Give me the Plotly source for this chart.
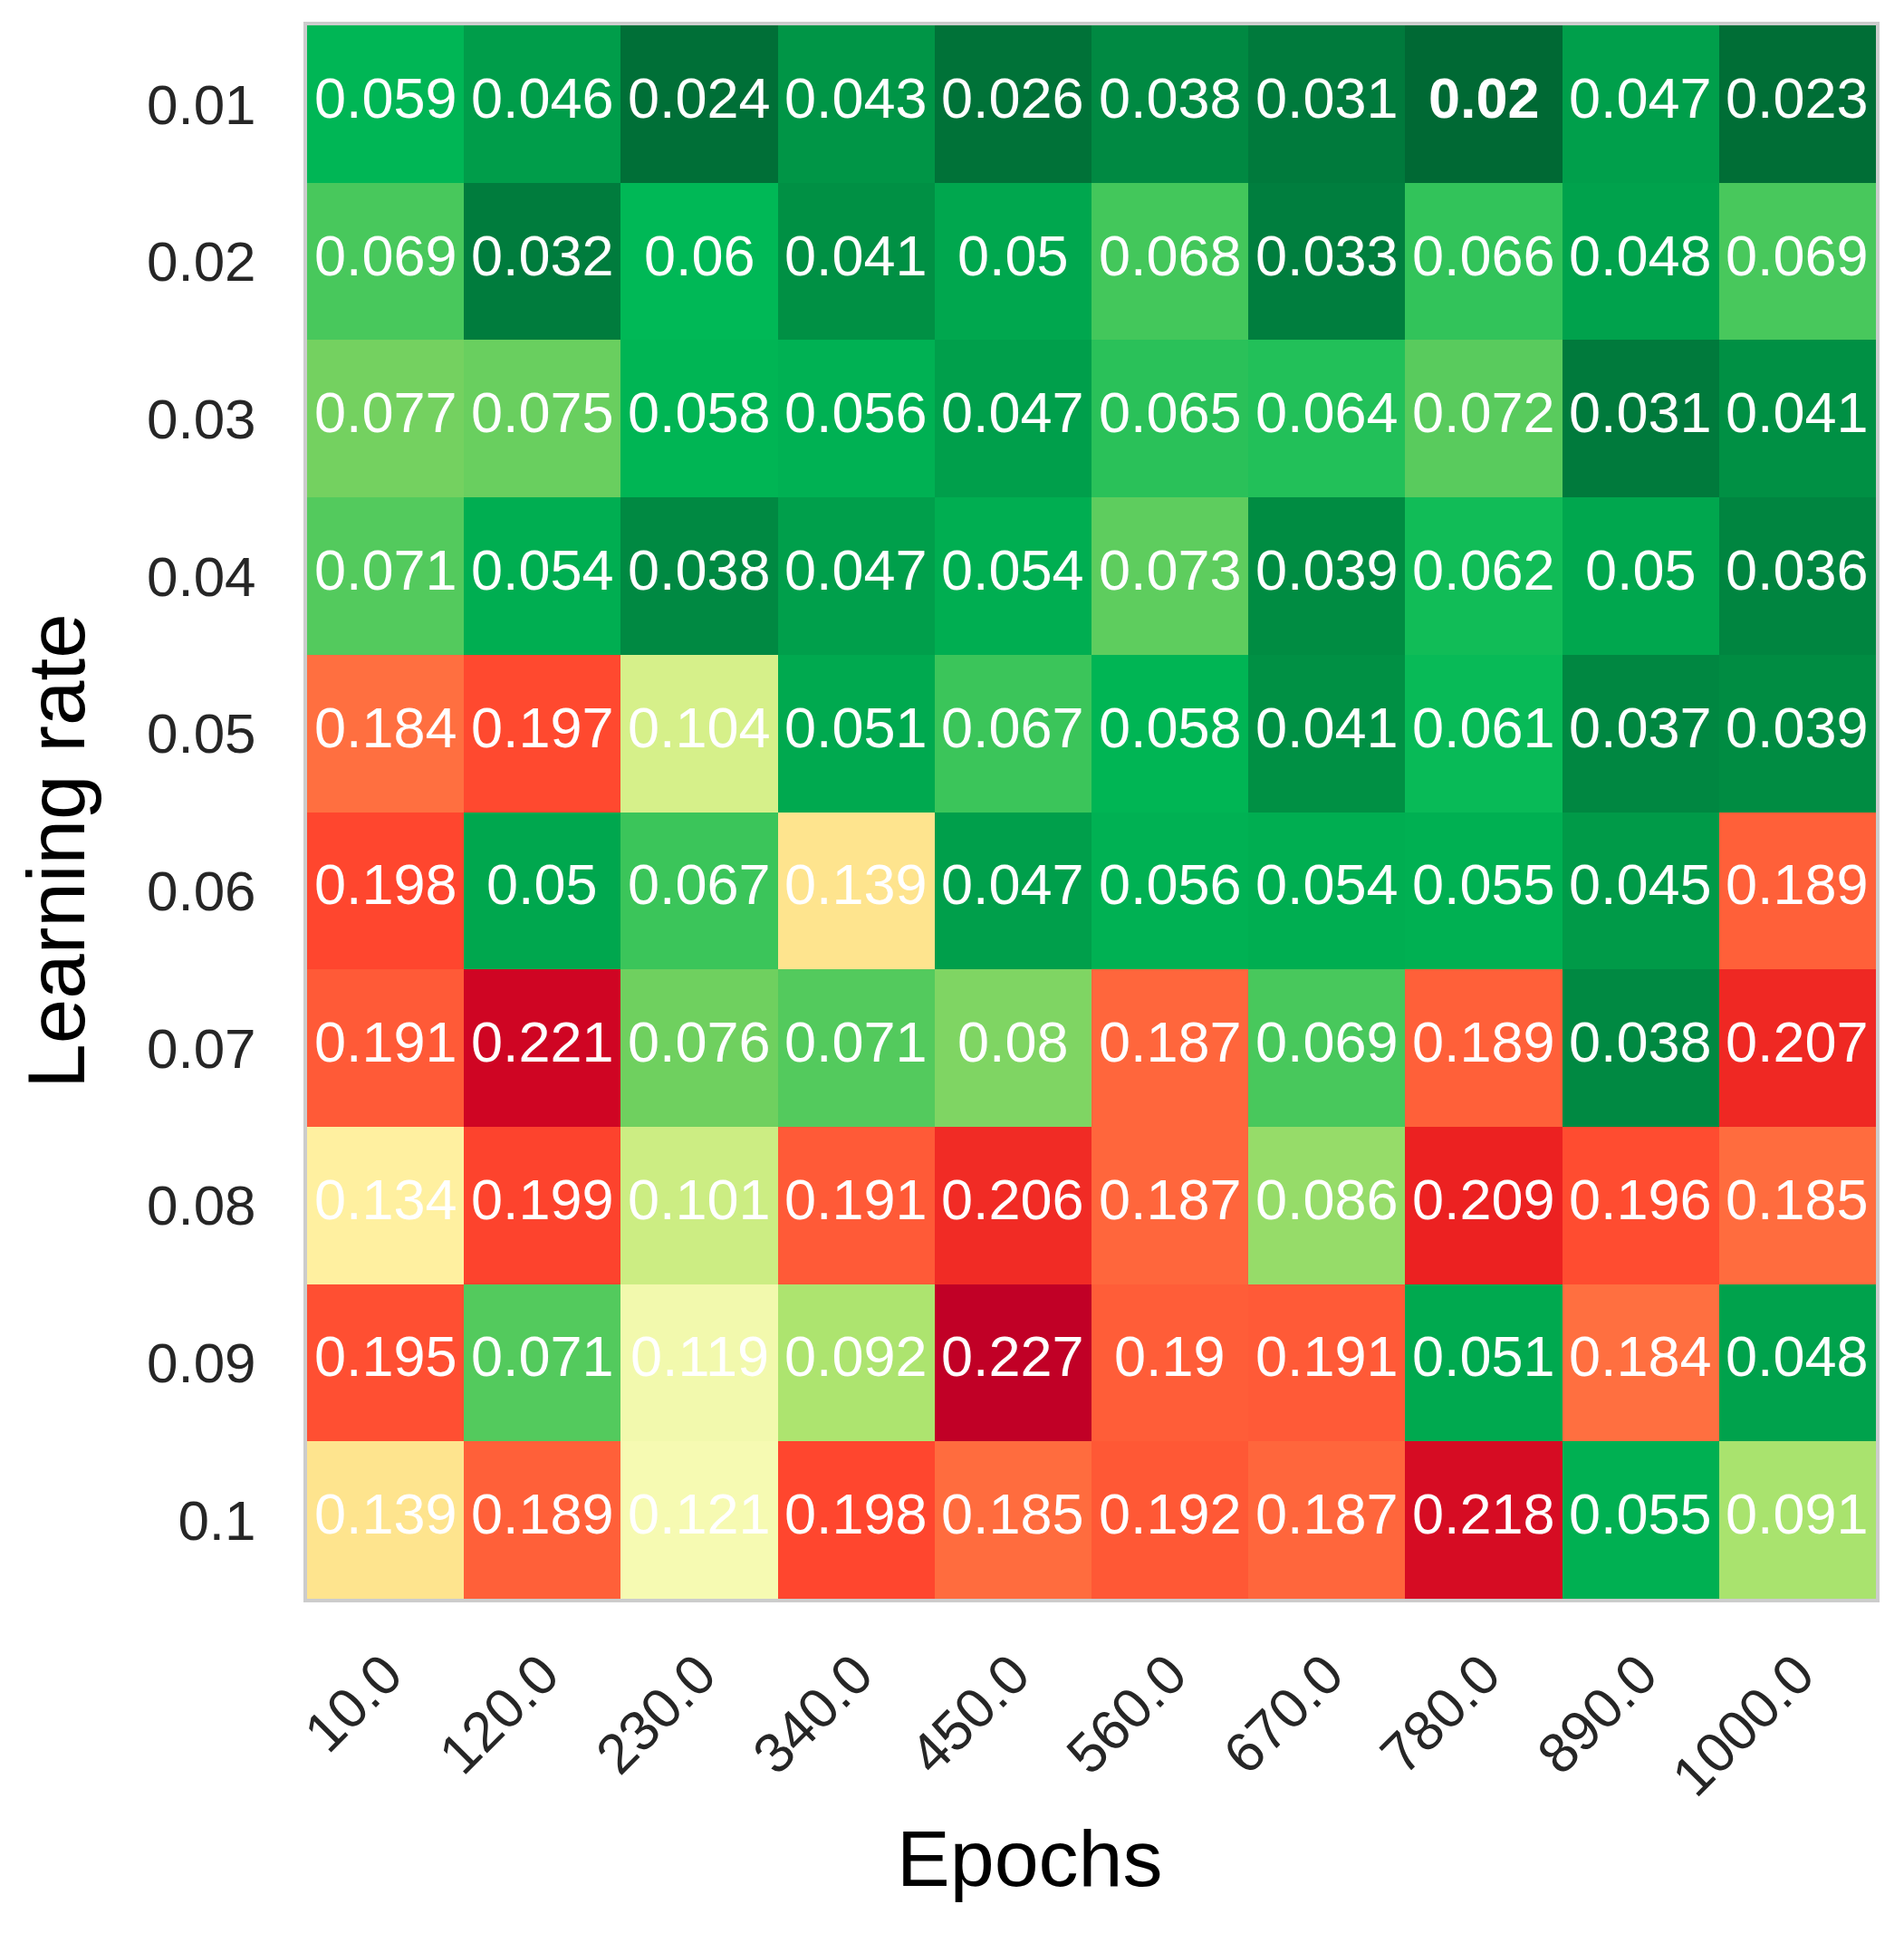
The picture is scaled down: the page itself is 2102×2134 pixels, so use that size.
import plotly.graph_objects as go

# --- datos ---
epochs = ["10.0", "120.0", "230.0", "340.0", "450.0", "560.0", "670.0", "780.0", "890.0", "1000.0"]
learning_rates = ["0.01", "0.02", "0.03", "0.04", "0.05", "0.06", "0.07", "0.08", "0.09", "0.1"]

lr_001 = [0.059, 0.046, 0.024, 0.043, 0.026, 0.038, 0.031, 0.02, 0.047, 0.023]
lr_002 = [0.069, 0.032, 0.06, 0.041, 0.05, 0.068, 0.033, 0.066, 0.048, 0.069]
lr_003 = [0.077, 0.075, 0.058, 0.056, 0.047, 0.065, 0.064, 0.072, 0.031, 0.041]
lr_004 = [0.071, 0.054, 0.038, 0.047, 0.054, 0.073, 0.039, 0.062, 0.05, 0.036]
lr_005 = [0.184, 0.197, 0.104, 0.051, 0.067, 0.058, 0.041, 0.061, 0.037, 0.039]
lr_006 = [0.198, 0.05, 0.067, 0.139, 0.047, 0.056, 0.054, 0.055, 0.045, 0.189]
lr_007 = [0.191, 0.221, 0.076, 0.071, 0.08, 0.187, 0.069, 0.189, 0.038, 0.207]
lr_008 = [0.134, 0.199, 0.101, 0.191, 0.206, 0.187, 0.086, 0.209, 0.196, 0.185]
lr_009 = [0.195, 0.071, 0.119, 0.092, 0.227, 0.19, 0.191, 0.051, 0.184, 0.048]
lr_010 = [0.139, 0.189, 0.121, 0.198, 0.185, 0.192, 0.187, 0.218, 0.055, 0.091]

z = [lr_001, lr_002, lr_003, lr_004, lr_005, lr_006, lr_007, lr_008, lr_009, lr_010]

# --- escala de color (verde -> amarillo -> rojo) ---
zmin = min(min(r) for r in z)
zmax = max(max(r) for r in z)
stops = [
    (0.020, "#006934"), (0.031, "#007a3c"), (0.041, "#009044"), (0.050, "#00a74e"),
    (0.060, "#00b856"), (0.068, "#43c75b"), (0.077, "#74d160"), (0.092, "#ade46f"),
    (0.104, "#d6f08a"), (0.121, "#f6fab2"), (0.134, "#fff0a0"), (0.139, "#fee48e"),
    (0.185, "#ff6c3e"), (0.198, "#ff462e"), (0.209, "#ec2121"), (0.221, "#cf0523"),
    (0.227, "#c10026"),
]
colorscale = [[(v - zmin) / (zmax - zmin), c] for v, c in stops]

FONT = "Liberation Sans, Arial"

fig = go.Figure(go.Heatmap(
    z=z, x=epochs, y=learning_rates,
    colorscale=colorscale, zmin=zmin, zmax=zmax,
    showscale=False, xgap=0, ygap=0,
))

# valores en cada celda, el mínimo en negrita
# (x/y como índice de categoría para que no se lean como números)
annotations = []
for i in range(len(learning_rates)):
    for j in range(len(epochs)):
        val = z[i][j]
        txt = f"{val:g}"
        if val == zmin:
            txt = f"<b>{txt}</b>"
        annotations.append(dict(
            x=j, y=i, xref="x", yref="y", text=txt, showarrow=False, yshift=7,
            font=dict(family=FONT, size=63, color="white"),
        ))

annotations.append(dict(
    text="Epochs", xref="paper", yref="paper", x=0.461, y=-0.165,
    showarrow=False, xanchor="center", yanchor="middle",
    font=dict(family=FONT, size=88, color="black"),
))
annotations.append(dict(
    text="Learning rate", xref="paper", yref="paper", x=-0.160, y=0.475,
    showarrow=False, xanchor="center", yanchor="middle", textangle=-90,
    font=dict(family=FONT, size=89, color="black"),
))

fig.update_layout(
    width=2102, height=2134,
    margin=dict(l=331, r=39, t=20, b=377),
    paper_bgcolor="white", plot_bgcolor="white",
    annotations=annotations,
    font=dict(family=FONT, color="#262626"),
)
fig.update_xaxes(
    type="category", tickangle=-45, tickfont=dict(size=62),
    range=[-0.5, len(epochs) - 0.5],
    ticks="outside", ticklen=18, tickcolor="rgba(0,0,0,0)",
    showline=True, linecolor="#cccccc", linewidth=4, mirror=True,
    showgrid=False, zeroline=False,
)
fig.update_yaxes(
    type="category", range=[len(learning_rates) - 0.5, -0.5], tickfont=dict(size=62),
    ticks="outside", ticklen=40, tickcolor="rgba(0,0,0,0)",
    showline=True, linecolor="#cccccc", linewidth=4, mirror=True,
    showgrid=False, zeroline=False,
)

fig.write_html("out.html")
